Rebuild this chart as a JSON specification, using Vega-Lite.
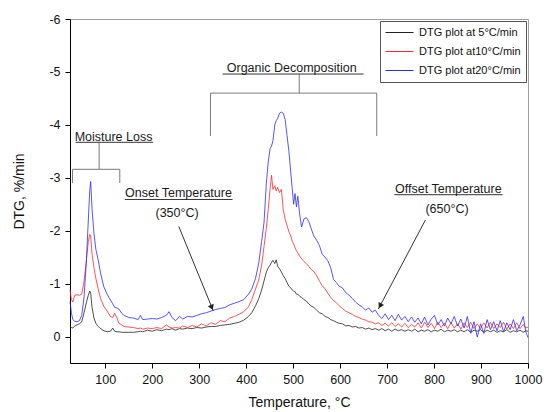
{
  "$schema": "https://vega.github.io/schema/vega-lite/v6.json",
  "width": 458,
  "height": 344,
  "autosize": {"type": "none"},
  "padding": {"left": 70, "top": 19, "right": 16, "bottom": 49},
  "datasets": {
    "curves": [
      {"T":25,"k":-0.20,"r":-0.88,"b":-0.66},
      {"T":28,"k":-0.17,"r":-0.70,"b":-0.45},
      {"T":31,"k":-0.16,"r":-0.65,"b":-0.32},
      {"T":35,"k":-0.20,"r":-0.78,"b":-0.29},
      {"T":40,"k":-0.22,"r":-0.79,"b":-0.28},
      {"T":45,"k":-0.24,"r":-0.78,"b":-0.30},
      {"T":50,"k":-0.28,"r":-0.80,"b":-0.40},
      {"T":55,"k":-0.45,"r":-1.05,"b":-0.75},
      {"T":60,"k":-0.65,"r":-1.45,"b":-1.45},
      {"T":64,"k":-0.78,"r":-1.80,"b":-2.20},
      {"T":67,"k":-0.86,"r":-1.93,"b":-2.75},
      {"T":69,"k":-0.82,"r":-1.90,"b":-2.93},
      {"T":72,"k":-0.55,"r":-1.55,"b":-2.40},
      {"T":76,"k":-0.35,"r":-1.30,"b":-1.95},
      {"T":80,"k":-0.25,"r":-1.10,"b":-1.65},
      {"T":85,"k":-0.19,"r":-0.90,"b":-1.45},
      {"T":90,"k":-0.15,"r":-0.72,"b":-1.20},
      {"T":97,"k":-0.11,"r":-0.57,"b":-0.94},
      {"T":104,"k":-0.09,"r":-0.48,"b":-0.80},
      {"T":111,"k":-0.10,"r":-0.38,"b":-0.69},
      {"T":116,"k":-0.16,"r":-0.36,"b":-0.62},
      {"T":120,"k":-0.10,"r":-0.44,"b":-0.55},
      {"T":125,"k":-0.09,"r":-0.35,"b":-0.54},
      {"T":129,"k":-0.09,"r":-0.25,"b":-0.52},
      {"T":135,"k":-0.08,"r":-0.22,"b":-0.44},
      {"T":140,"k":-0.08,"r":-0.19,"b":-0.40},
      {"T":150,"k":-0.08,"r":-0.18,"b":-0.36},
      {"T":160,"k":-0.08,"r":-0.17,"b":-0.35},
      {"T":170,"k":-0.09,"r":-0.15,"b":-0.32},
      {"T":175,"k":-0.10,"r":-0.16,"b":-0.40},
      {"T":180,"k":-0.09,"r":-0.14,"b":-0.32},
      {"T":190,"k":-0.12,"r":-0.16,"b":-0.33},
      {"T":200,"k":-0.10,"r":-0.15,"b":-0.34},
      {"T":210,"k":-0.13,"r":-0.17,"b":-0.33},
      {"T":220,"k":-0.11,"r":-0.15,"b":-0.36},
      {"T":230,"k":-0.14,"r":-0.22,"b":-0.40},
      {"T":236,"k":-0.13,"r":-0.18,"b":-0.47},
      {"T":242,"k":-0.15,"r":-0.16,"b":-0.36},
      {"T":250,"k":-0.12,"r":-0.17,"b":-0.30},
      {"T":258,"k":-0.15,"r":-0.16,"b":-0.38},
      {"T":265,"k":-0.14,"r":-0.20,"b":-0.33},
      {"T":275,"k":-0.16,"r":-0.17,"b":-0.38},
      {"T":285,"k":-0.15,"r":-0.21,"b":-0.37},
      {"T":295,"k":-0.17,"r":-0.18,"b":-0.40},
      {"T":305,"k":-0.16,"r":-0.24,"b":-0.43},
      {"T":315,"k":-0.18,"r":-0.20,"b":-0.45},
      {"T":325,"k":-0.19,"r":-0.26,"b":-0.48},
      {"T":335,"k":-0.19,"r":-0.23,"b":-0.51},
      {"T":345,"k":-0.21,"r":-0.30,"b":-0.53},
      {"T":355,"k":-0.22,"r":-0.28,"b":-0.55},
      {"T":365,"k":-0.23,"r":-0.35,"b":-0.60},
      {"T":375,"k":-0.25,"r":-0.38,"b":-0.63},
      {"T":385,"k":-0.27,"r":-0.42,"b":-0.66},
      {"T":395,"k":-0.31,"r":-0.47,"b":-0.70},
      {"T":405,"k":-0.38,"r":-0.56,"b":-0.80},
      {"T":412,"k":-0.45,"r":-0.70,"b":-0.90},
      {"T":420,"k":-0.58,"r":-0.90,"b":-1.10},
      {"T":427,"k":-0.72,"r":-1.08,"b":-1.40},
      {"T":433,"k":-0.88,"r":-1.35,"b":-1.80},
      {"T":438,"k":-1.05,"r":-1.70,"b":-2.15},
      {"T":443,"k":-1.22,"r":-2.05,"b":-2.90},
      {"T":447,"k":-1.30,"r":-2.40,"b":-3.30},
      {"T":451,"k":-1.35,"r":-2.80,"b":-3.55},
      {"T":454,"k":-1.40,"r":-3.05,"b":-3.60},
      {"T":457,"k":-1.44,"r":-2.78,"b":-3.70},
      {"T":461,"k":-1.38,"r":-2.85,"b":-4.00},
      {"T":464,"k":-1.45,"r":-2.75,"b":-4.08},
      {"T":467,"k":-1.33,"r":-2.82,"b":-4.12},
      {"T":471,"k":-1.28,"r":-2.72,"b":-4.22},
      {"T":475,"k":-1.22,"r":-2.78,"b":-4.24},
      {"T":479,"k":-1.15,"r":-2.40,"b":-4.22},
      {"T":483,"k":-1.10,"r":-2.22,"b":-4.10},
      {"T":487,"k":-1.02,"r":-2.10,"b":-3.80},
      {"T":491,"k":-0.95,"r":-1.98,"b":-3.50},
      {"T":495,"k":-0.92,"r":-1.90,"b":-3.10},
      {"T":498,"k":-0.88,"r":-1.80,"b":-2.80},
      {"T":501,"k":-0.86,"r":-1.75,"b":-2.50},
      {"T":504,"k":-0.85,"r":-1.68,"b":-2.70},
      {"T":507,"k":-0.80,"r":-1.62,"b":-2.45},
      {"T":510,"k":-0.80,"r":-1.58,"b":-2.65},
      {"T":514,"k":-0.76,"r":-1.52,"b":-2.30},
      {"T":518,"k":-0.74,"r":-1.47,"b":-2.07},
      {"T":523,"k":-0.70,"r":-1.42,"b":-2.22},
      {"T":528,"k":-0.67,"r":-1.38,"b":-2.25},
      {"T":533,"k":-0.62,"r":-1.33,"b":-2.18},
      {"T":538,"k":-0.58,"r":-1.27,"b":-2.05},
      {"T":544,"k":-0.55,"r":-1.23,"b":-1.90},
      {"T":550,"k":-0.50,"r":-1.15,"b":-1.82},
      {"T":556,"k":-0.45,"r":-1.05,"b":-1.72},
      {"T":562,"k":-0.43,"r":-0.96,"b":-1.55},
      {"T":568,"k":-0.38,"r":-0.90,"b":-1.50},
      {"T":574,"k":-0.36,"r":-0.82,"b":-1.43},
      {"T":580,"k":-0.32,"r":-0.74,"b":-1.30},
      {"T":586,"k":-0.30,"r":-0.68,"b":-1.08},
      {"T":592,"k":-0.27,"r":-0.64,"b":-1.02},
      {"T":598,"k":-0.25,"r":-0.58,"b":-0.95},
      {"T":605,"k":-0.24,"r":-0.53,"b":-0.92},
      {"T":612,"k":-0.20,"r":-0.48,"b":-0.83},
      {"T":619,"k":-0.21,"r":-0.45,"b":-0.78},
      {"T":626,"k":-0.18,"r":-0.42,"b":-0.72},
      {"T":633,"k":-0.19,"r":-0.38,"b":-0.65},
      {"T":640,"k":-0.16,"r":-0.36,"b":-0.60},
      {"T":647,"k":-0.17,"r":-0.33,"b":-0.56},
      {"T":654,"k":-0.14,"r":-0.31,"b":-0.50},
      {"T":661,"k":-0.16,"r":-0.28,"b":-0.54},
      {"T":668,"k":-0.13,"r":-0.27,"b":-0.46},
      {"T":675,"k":-0.15,"r":-0.24,"b":-0.50},
      {"T":682,"k":-0.12,"r":-0.26,"b":-0.40},
      {"T":689,"k":-0.15,"r":-0.21,"b":-0.34},
      {"T":696,"k":-0.11,"r":-0.25,"b":-0.43},
      {"T":703,"k":-0.14,"r":-0.20,"b":-0.32},
      {"T":710,"k":-0.10,"r":-0.26,"b":-0.40},
      {"T":717,"k":-0.14,"r":-0.19,"b":-0.30},
      {"T":724,"k":-0.11,"r":-0.24,"b":-0.42},
      {"T":731,"k":-0.13,"r":-0.18,"b":-0.31},
      {"T":738,"k":-0.10,"r":-0.25,"b":-0.38},
      {"T":745,"k":-0.13,"r":-0.17,"b":-0.28},
      {"T":752,"k":-0.10,"r":-0.23,"b":-0.37},
      {"T":759,"k":-0.14,"r":-0.18,"b":-0.27},
      {"T":766,"k":-0.09,"r":-0.26,"b":-0.35},
      {"T":773,"k":-0.12,"r":-0.16,"b":-0.24},
      {"T":780,"k":-0.10,"r":-0.27,"b":-0.37},
      {"T":787,"k":-0.13,"r":-0.17,"b":-0.22},
      {"T":794,"k":-0.09,"r":-0.25,"b":-0.33},
      {"T":801,"k":-0.12,"r":-0.15,"b":-0.40},
      {"T":808,"k":-0.10,"r":-0.27,"b":-0.22},
      {"T":815,"k":-0.14,"r":-0.17,"b":-0.32},
      {"T":822,"k":-0.09,"r":-0.25,"b":-0.20},
      {"T":829,"k":-0.12,"r":-0.15,"b":-0.35},
      {"T":836,"k":-0.10,"r":-0.26,"b":-0.24},
      {"T":843,"k":-0.13,"r":-0.16,"b":-0.38},
      {"T":850,"k":-0.09,"r":-0.24,"b":-0.20},
      {"T":857,"k":-0.12,"r":-0.14,"b":-0.33},
      {"T":864,"k":-0.09,"r":-0.26,"b":-0.16},
      {"T":871,"k":-0.13,"r":-0.17,"b":-0.38},
      {"T":878,"k":-0.08,"r":-0.27,"b":-0.06},
      {"T":885,"k":-0.12,"r":-0.15,"b":-0.28},
      {"T":892,"k":-0.10,"r":-0.24,"b":0.01},
      {"T":899,"k":-0.13,"r":-0.15,"b":-0.24},
      {"T":906,"k":-0.08,"r":-0.26,"b":-0.06},
      {"T":913,"k":-0.12,"r":-0.16,"b":-0.32},
      {"T":920,"k":-0.09,"r":-0.27,"b":-0.13},
      {"T":927,"k":-0.12,"r":-0.15,"b":-0.28},
      {"T":934,"k":-0.08,"r":-0.24,"b":-0.11},
      {"T":941,"k":-0.11,"r":-0.17,"b":-0.30},
      {"T":948,"k":-0.09,"r":-0.27,"b":-0.09},
      {"T":955,"k":-0.13,"r":-0.14,"b":-0.26},
      {"T":962,"k":-0.08,"r":-0.24,"b":-0.13},
      {"T":969,"k":-0.11,"r":-0.15,"b":-0.32},
      {"T":976,"k":-0.09,"r":-0.26,"b":-0.11},
      {"T":983,"k":-0.12,"r":-0.15,"b":-0.22},
      {"T":990,"k":-0.08,"r":-0.23,"b":-0.38},
      {"T":995,"k":-0.11,"r":-0.16,"b":-0.10},
      {"T":1000,"k":-0.10,"r":-0.18,"b":0.02}
    ],
    "brackets": [
      {"x1":30.4,"y1":-2.9,"x2":30.4,"y2":-3.16},
      {"x1":30.4,"y1":-3.16,"x2":131,"y2":-3.16},
      {"x1":131,"y1":-3.16,"x2":131,"y2":-2.9},
      {"x1":87,"y1":-3.16,"x2":87,"y2":-3.67},
      {"x1":324,"y1":-3.79,"x2":324,"y2":-4.6},
      {"x1":324,"y1":-4.6,"x2":678,"y2":-4.6},
      {"x1":678,"y1":-4.6,"x2":678,"y2":-3.79},
      {"x1":513,"y1":-4.6,"x2":513,"y2":-4.96}
    ],
    "underlines": [
      {"x1":36.8,"x2":202,"y":-3.67},
      {"x1":349.6,"x2":650,"y":-4.96},
      {"x1":141.7,"x2":371,"y":-2.59},
      {"x1":715.5,"x2":946,"y":-2.68}
    ],
    "labels": [
      {"x":117.7,"y":-3.70,"text":"Moisture Loss"},
      {"x":497,"y":-4.99,"text":"Organic Decomposition"},
      {"x":256,"y":-2.63,"text":"Onset Temperature"},
      {"x":253,"y":-2.26,"text":"(350°C)"},
      {"x":830.5,"y":-2.71,"text":"Offset Temperature"},
      {"x":827.7,"y":-2.34,"text":"(650°C)"}
    ],
    "arrows": [
      {"name":"onset","x1":256.6,"y1":-2.08,"x2":329.8,"y2":-0.49,"hx":326.9,"hy":-0.55},
      {"name":"offset","x1":781.5,"y1":-2.20,"x2":681.5,"y2":-0.52,"hx":685,"hy":-0.58}
    ]
  },
  "layer": [
    {
      "data": {"name": "curves"},
      "transform": [{"fold": ["k", "r", "b"], "as": ["s", "v"]}],
      "mark": {"type": "line", "strokeWidth": 0.8, "interpolate": "linear"},
      "encoding": {
        "x": {
          "field": "T", "type": "quantitative",
          "scale": {"domain": [25, 1000], "nice": false, "zero": false},
          "axis": {
            "title": "Temperature, °C",
            "values": [100,200,300,400,500,600,700,800,900,1000],
            "format": "d",
            "tickSize": 5,
            "labelOverlap": false,
            "labelFlush": false,
            "labelBound": false,
            "labelPadding": 5,
            "titlePadding": 10
          }
        },
        "y": {
          "field": "v", "type": "quantitative",
          "scale": {"domain": [-6, 0.5], "nice": false, "zero": false, "reverse": true},
          "axis": {
            "title": "DTG, %/min",
            "values": [-6,-5.5,-5,-4.5,-4,-3.5,-3,-2.5,-2,-1.5,-1,-0.5,0,0.5],
            "labelExpr": "(datum.value % 1 === 0 && datum.value <= 0) ? '' + datum.value : ''",
            "tickSize": 5,
            "labelOverlap": false,
            "labelFlush": false,
            "labelPadding": 5,
            "titlePadding": 22
          }
        },
        "color": {
          "field": "s", "type": "nominal",
          "scale": {"domain": ["k", "r", "b"], "range": ["#222222", "#ff2a2a", "#2a2aff"]},
          "legend": {
            "title": null,
            "orient": "top-right",
            "offset": 2,
            "labelExpr": "datum.value === 'k' ? 'DTG plot at 5°C/min' : (datum.value === 'r' ? 'DTG plot at10°C/min' : 'DTG plot at20°C/min')"
          }
        }
      }
    },
    {
      "data": {"name": "brackets"},
      "mark": {"type": "rule", "color": "#7a7a7a", "strokeWidth": 1},
      "encoding": {
        "x": {"field": "x1", "type": "quantitative"},
        "x2": {"field": "x2"},
        "y": {"field": "y1", "type": "quantitative"},
        "y2": {"field": "y2"}
      }
    },
    {
      "data": {"name": "underlines"},
      "mark": {"type": "rule", "color": "#333333", "strokeWidth": 1},
      "encoding": {
        "x": {"field": "x1", "type": "quantitative"},
        "x2": {"field": "x2"},
        "y": {"field": "y", "type": "quantitative"}
      }
    },
    {
      "data": {"name": "labels"},
      "mark": {"type": "text", "font": "Liberation Sans", "fontSize": 12.5, "color": "#1a1a1a", "align": "center", "baseline": "alphabetic"},
      "encoding": {
        "x": {"field": "x", "type": "quantitative"},
        "y": {"field": "y", "type": "quantitative"},
        "text": {"field": "text"}
      }
    },
    {
      "data": {"name": "arrows"},
      "mark": {"type": "rule", "color": "#333333", "strokeWidth": 1},
      "encoding": {
        "x": {"field": "x1", "type": "quantitative"},
        "x2": {"field": "x2"},
        "y": {"field": "y1", "type": "quantitative"},
        "y2": {"field": "y2"}
      }
    },
    {
      "data": {"name": "arrows"},
      "transform": [{"filter": "datum.name === 'onset'"}],
      "mark": {"type": "point", "shape": "triangle-up", "filled": true, "size": 40, "color": "#222222", "opacity": 1, "angle": 157},
      "encoding": {
        "x": {"field": "hx", "type": "quantitative"},
        "y": {"field": "hy", "type": "quantitative"}
      }
    },
    {
      "data": {"name": "arrows"},
      "transform": [{"filter": "datum.name === 'offset'"}],
      "mark": {"type": "point", "shape": "triangle-up", "filled": true, "size": 40, "color": "#222222", "opacity": 1, "angle": 208},
      "encoding": {
        "x": {"field": "hx", "type": "quantitative"},
        "y": {"field": "hy", "type": "quantitative"}
      }
    }
  ],
  "config": {
    "font": "Liberation Sans",
    "view": {"stroke": "#a0a0a0", "strokeWidth": 1},
    "axis": {
      "grid": false,
      "domainColor": "#000000",
      "domainWidth": 1,
      "tickColor": "#000000",
      "tickWidth": 1,
      "labelFont": "Liberation Sans",
      "labelFontSize": 12.5,
      "labelColor": "#111111",
      "titleFont": "Liberation Sans",
      "titleFontSize": 14,
      "titleFontWeight": "normal",
      "titleColor": "#111111"
    },
    "legend": {
      "strokeColor": "#555555",
      "fillColor": "#ffffff",
      "padding": 5,
      "cornerRadius": 0,
      "symbolType": "stroke",
      "symbolSize": 784,
      "symbolStrokeWidth": 1,
      "labelFont": "Liberation Sans",
      "labelFontSize": 11,
      "labelColor": "#111111",
      "labelOffset": 5,
      "clipHeight": 13,
      "rowPadding": 6
    }
  }
}
